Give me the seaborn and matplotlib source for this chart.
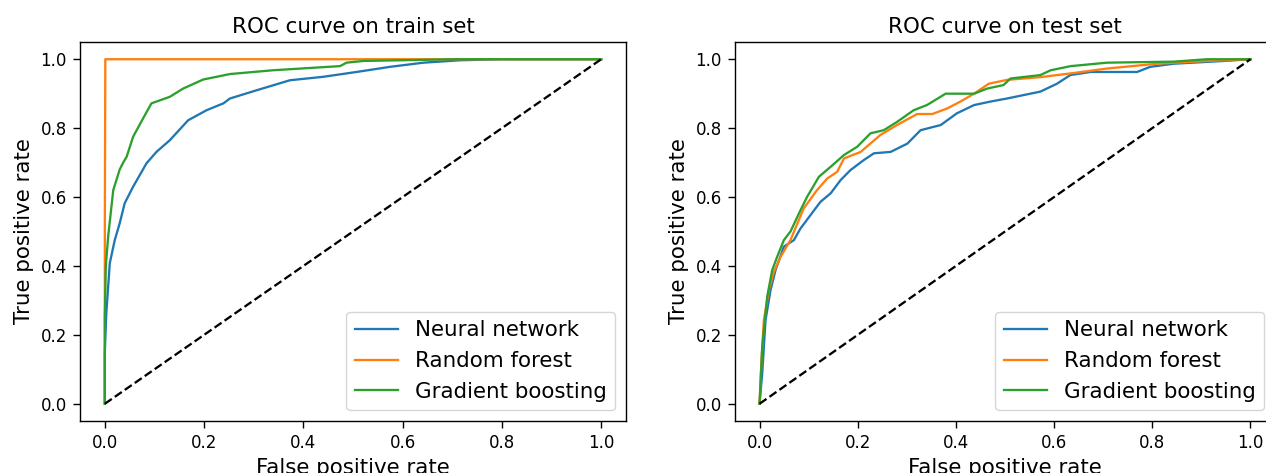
import matplotlib
matplotlib.use("Agg")
import matplotlib.pyplot as plt
import seaborn as sns
import numpy as np

# ---------------- data ----------------
models = ["Neural network", "Random forest", "Gradient boosting"]
colors = ["#1f77b4", "#ff7f0e", "#2ca02c"]

# train set
nn_train_fpr = [0.0, 0.0, 0.003, 0.010, 0.020, 0.030, 0.040, 0.057, 0.084, 0.104, 0.131,
                0.168, 0.205, 0.239, 0.252, 0.306, 0.373, 0.440, 0.507, 0.575, 0.642,
                0.716, 0.80, 1.0]
nn_train_tpr = [0.0, 0.15, 0.263, 0.408, 0.475, 0.524, 0.582, 0.630, 0.698, 0.731, 0.765,
                0.823, 0.852, 0.872, 0.886, 0.910, 0.939, 0.949, 0.963, 0.978, 0.990,
                0.997, 1.0, 1.0]

rf_train_fpr = [0.0, 0.0, 0.001, 1.0]
rf_train_tpr = [0.0, 0.5, 1.0, 1.0]

gb_train_fpr = [0.0, 0.0, 0.002, 0.0067, 0.017, 0.030, 0.037, 0.044, 0.057, 0.077, 0.094,
                0.131, 0.158, 0.198, 0.252, 0.339, 0.474, 0.487, 0.521, 0.709, 1.0]
gb_train_tpr = [0.0, 0.25, 0.40, 0.485, 0.62, 0.68, 0.70, 0.717, 0.775, 0.828, 0.872,
                0.891, 0.915, 0.941, 0.957, 0.968, 0.980, 0.990, 0.995, 1.0, 1.0]

# test set
nn_test_fpr = [0.0, 0.0055, 0.0122, 0.0224, 0.0326, 0.0495, 0.070, 0.0835, 0.104, 0.124,
               0.145, 0.165, 0.185, 0.212, 0.233, 0.267, 0.301, 0.328, 0.369, 0.402,
               0.437, 0.470, 0.504, 0.572, 0.606, 0.633, 0.674, 0.769, 0.796, 0.844,
               0.946, 1.0]
nn_test_tpr = [0.0, 0.089, 0.243, 0.330, 0.388, 0.456, 0.475, 0.509, 0.548, 0.586,
               0.611, 0.649, 0.678, 0.707, 0.727, 0.731, 0.755, 0.794, 0.809, 0.843,
               0.867, 0.877, 0.886, 0.906, 0.929, 0.954, 0.963, 0.963, 0.978, 0.987,
               0.995, 1.0]

rf_test_fpr = [0.0, 0.0036, 0.0088, 0.019, 0.029, 0.043, 0.063, 0.077, 0.090, 0.117,
               0.138, 0.158, 0.172, 0.206, 0.246, 0.280, 0.321, 0.352, 0.382, 0.409,
               0.437, 0.467, 0.504, 0.572, 0.640, 0.708, 0.810, 0.912, 1.0]
rf_test_tpr = [0.0, 0.118, 0.243, 0.330, 0.382, 0.427, 0.475, 0.523, 0.567, 0.620,
               0.654, 0.673, 0.712, 0.731, 0.780, 0.809, 0.841, 0.841, 0.857, 0.877,
               0.900, 0.929, 0.940, 0.948, 0.960, 0.973, 0.987, 0.995, 1.0]

gb_test_fpr = [0.0, 0.0055, 0.0156, 0.0258, 0.036, 0.0495, 0.063, 0.0835, 0.097, 0.121,
               0.145, 0.172, 0.199, 0.226, 0.253, 0.280, 0.314, 0.341, 0.379, 0.437,
               0.464, 0.497, 0.511, 0.572, 0.593, 0.634, 0.708, 0.844, 0.912, 1.0]
gb_test_tpr = [0.0, 0.166, 0.311, 0.388, 0.427, 0.475, 0.500, 0.562, 0.601, 0.659,
               0.688, 0.722, 0.746, 0.785, 0.794, 0.818, 0.852, 0.867, 0.900, 0.900,
               0.915, 0.925, 0.944, 0.954, 0.968, 0.980, 0.990, 0.993, 1.0, 1.0]

titles = ["ROC curve on train set", "ROC curve on test set"]
xlabel = "False positive rate"
ylabel = "True positive rate"
ticks = [0.0, 0.2, 0.4, 0.6, 0.8, 1.0]

# ---------------- figure ----------------
W, H = 1266, 473
fig = plt.figure(figsize=(W / 100, H / 100), dpi=100)
ax1 = fig.add_axes([80 / W, 1 - 421 / H, 546 / W, 379 / H])
ax2 = fig.add_axes([735 / W, 1 - 421 / H, 540 / W, 379 / H])

sets = [
    [(nn_train_fpr, nn_train_tpr), (rf_train_fpr, rf_train_tpr), (gb_train_fpr, gb_train_tpr)],
    [(nn_test_fpr, nn_test_tpr), (rf_test_fpr, rf_test_tpr), (gb_test_fpr, gb_test_tpr)],
]

for ax, curves, title in zip([ax1, ax2], sets, titles):
    for (fpr, tpr), name, c in zip(curves, models, colors):
        sns.lineplot(x=fpr, y=tpr, ax=ax, label=name, color=c, sort=False,
                     estimator=None, linewidth=1.65)
    ax.plot([0, 1], [0, 1], "k--", linewidth=1.65)
    ax.set_xlim(-0.05, 1.05)
    ax.set_ylim(-0.05, 1.05)
    ax.set_xticks(ticks)
    ax.set_yticks(ticks)
    ax.tick_params(labelsize=12, length=5, width=1.0, pad=4.5)
    for sp in ax.spines.values():
        sp.set_linewidth(1.0)
    ax.set_title(title, fontsize=15.4, pad=6.6)
    ax.set_xlabel(xlabel, fontsize=15.4, labelpad=4.4)
    ax.set_ylabel(ylabel, fontsize=15.4, labelpad=4.4)
    ax.legend(loc="lower right", fontsize=15.4)

fig.savefig("out.png", dpi=100)
